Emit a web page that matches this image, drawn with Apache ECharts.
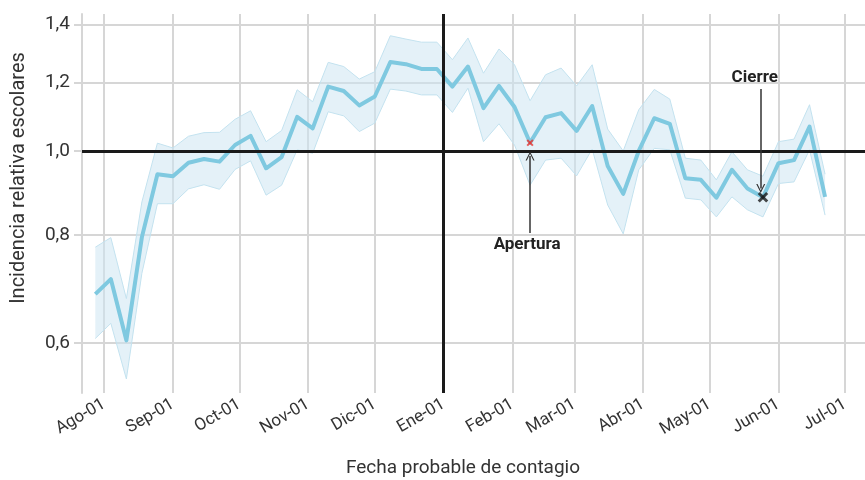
<!DOCTYPE html>
<html>
<head>
<meta charset="utf-8">
<script src="https://cdn.jsdelivr.net/npm/echarts@6/dist/echarts.min.js"></script>
<style>html,body{margin:0;padding:0;background:#fff;}#c{width:865px;height:480px;}</style>
</head>
<body>
<div id="c"></div>
<script>
// ---- data ----
const dates = ['2020-07-28','2020-08-04','2020-08-11','2020-08-18','2020-08-25','2020-09-01','2020-09-08','2020-09-15','2020-09-22','2020-09-29',
  '2020-10-06','2020-10-13','2020-10-20','2020-10-27','2020-11-03','2020-11-10','2020-11-17','2020-11-24','2020-12-01','2020-12-08',
  '2020-12-15','2020-12-22','2020-12-29','2021-01-05','2021-01-12','2021-01-19','2021-01-26','2021-02-02','2021-02-09','2021-02-16',
  '2021-02-23','2021-03-02','2021-03-09','2021-03-16','2021-03-23','2021-03-30','2021-04-06','2021-04-13','2021-04-20','2021-04-27',
  '2021-05-04','2021-05-11','2021-05-18','2021-05-25','2021-06-01','2021-06-08','2021-06-15','2021-06-22'];
const incidence = [0.683,0.711,0.604,0.795,0.940,0.935,0.969,0.979,0.972,1.016,
  1.041,0.955,0.984,1.095,1.062,1.187,1.173,1.129,1.156,1.267,
  1.260,1.244,1.244,1.187,1.252,1.121,1.189,1.124,1.022,1.094,
  1.106,1.055,1.127,0.961,0.892,1.000,1.091,1.075,0.930,0.926,
  0.883,0.951,0.905,0.884,0.968,0.976,1.067,0.885];
const upper = [0.774,0.794,0.675,0.873,1.021,1.008,1.040,1.050,1.051,1.088,
  1.113,1.025,1.056,1.177,1.140,1.266,1.252,1.211,1.235,1.359,
  1.347,1.336,1.336,1.275,1.351,1.230,1.312,1.258,1.143,1.225,
  1.247,1.189,1.258,1.060,1.000,1.116,1.178,1.148,0.981,0.976,
  0.926,0.998,0.951,0.935,1.025,1.032,1.131,0.940];
const lower = [0.607,0.632,0.545,0.722,0.869,0.869,0.904,0.914,0.903,0.952,
  0.974,0.889,0.913,1.003,0.994,1.110,1.098,1.053,1.077,1.179,
  1.173,1.161,1.161,1.108,1.182,1.025,1.075,1.016,0.913,0.976,
  0.981,0.936,1.005,0.866,0.802,0.951,1.007,1.003,0.882,0.878,
  0.839,0.885,0.855,0.839,0.917,0.921,1.003,0.843];
const yTicks = [0.6, 0.8, 1.0, 1.2, 1.4];
const monthTicks = ['2020-08-01','2020-09-01','2020-10-01','2020-11-01','2020-12-01','2021-01-01',
  '2021-02-01','2021-03-01','2021-04-01','2021-05-01','2021-06-01','2021-07-01'];
const monthNames = ['Ene','Feb','Mar','Abr','May','Jun','Jul','Ago','Sep','Oct','Nov','Dic'];
const openingDate = '2021-02-09';
const closingDate = '2021-05-25';

// ---- helpers ----
const toTs = s => { const p = s.split('-'); return new Date(+p[0], +p[1]-1, +p[2]).getTime(); };
const L = Math.log;
const FONT = "Roboto, 'Liberation Sans', sans-serif";
const TXT = '#333333';
const GRID = '#d6d6d6';
const idxOpen = dates.indexOf(openingDate);
const idxClose = dates.indexOf(closingDate);
const monthTs = monthTicks.map(toTs);

const bandData = dates.map((d,i) => [toTs(d), L(lower[i]), L(upper[i])]);
const lineData = dates.map((d,i) => [toTs(d), L(incidence[i])]);

const chevron = 'path://M0,10 L5,0 L10,10 L8.6,10 L5,2.6 L1.4,10 Z';

function renderBand(params, api) {
  if (params.dataIndex !== 0) return null;
  const up = bandData.map(r => api.coord([r[0], r[2]]));
  const lo = bandData.map(r => api.coord([r[0], r[1]]));
  const poly = up.concat(lo.slice().reverse());
  return {
    type: 'group',
    children: [
      {type: 'polygon', shape: {points: poly}, style: {fill: 'rgba(205,230,243,0.55)', stroke: 'none'}},
      {type: 'polyline', shape: {points: up}, style: {stroke: '#c3e2ef', lineWidth: 1, fill: 'none'}},
      {type: 'polyline', shape: {points: lo}, style: {stroke: '#c3e2ef', lineWidth: 1, fill: 'none'}}
    ]
  };
}

const chart = echarts.init(document.getElementById('c'), null, {renderer:'canvas'});
chart.setOption({
  animation: false,
  grid: {left: 82, right: 0, top: 14, bottom: 87, containLabel: false, outerBoundsMode: 'none'},
  graphic: [
    {type:'text', left: 0, top: -14, style:{text:'Incidencia relativa de escolares', font:"bold 18px " + FONT, fill: TXT}},
    {type:'text', x: 19, y: 178, rotation: Math.PI/2,
      style:{text:'Incidencia relativa escolares', font:'20px ' + FONT, fill: TXT, align:'center', verticalAlign:'middle'}},
    {type:'text', x: 463, y: 468,
      style:{text:'Fecha probable de contagio', font:'19px ' + FONT, fill: TXT, align:'center', verticalAlign:'middle'}}
  ],
  xAxis: {
    type: 'value',
    min: toTs('2020-07-22'),
    max: toTs('2021-07-10'),
    axisLine: {show: true, lineStyle: {color: GRID, width: 2}},
    axisTick: {show: true, customValues: monthTs, length: 7, lineStyle: {color: GRID, width: 2}},
    axisLabel: {customValues: monthTs, rotate: 30, fontFamily: FONT, fontSize: 17, color: TXT, margin: 10,
      formatter: v => monthNames[new Date(v).getMonth()] + '-01'},
    splitLine: {show: true, lineStyle: {color: GRID, width: 2}}
  },
  yAxis: {
    type: 'value',
    min: L(0.525),
    max: L(1.44),
    axisLine: {show: true, lineStyle: {color: GRID, width: 2}},
    axisTick: {show: true, customValues: yTicks.map(L), length: 8, lineStyle: {color: GRID, width: 2}},
    axisLabel: {customValues: yTicks.map(L), fontFamily: FONT, fontSize: 19, color: TXT, margin: 12,
      formatter: v => Math.exp(v).toFixed(1).replace('.', ',')},
    splitLine: {show: true, lineStyle: {color: GRID, width: 2}}
  },
  series: [
    {
      name: 'ref', type: 'line', data: [], z: 1, silent: true,
      markLine: {
        silent: true, symbol: 'none', animation: false,
        lineStyle: {color: '#1a1a1a', width: 3, type: 'solid'},
        label: {show: false},
        data: [{yAxis: 0}, {xAxis: toTs('2021-01-01')}]
      }
    },
    {
      name: 'band', type: 'custom', data: bandData, z: 2, silent: true,
      encode: {x: 0, y: [1, 2]},
      renderItem: renderBand
    },
    {
      name: 'Incidencia', type: 'line', data: lineData, z: 3,
      symbol: 'none', lineStyle: {color: '#7fc9e0', width: 4, join: 'round'},
      markLine: {
        silent: true, animation: false,
        lineStyle: {color: '#333333', width: 1.5, type: 'solid'},
        data: [
          [
            {coord: [toTs(openingDate), L(0.804)], symbol: 'none',
             label: {show: true, position: 'start', formatter: 'Apertura', fontFamily: FONT, fontWeight: 'bold', fontSize: 17, color: '#222', distance: 3, offset: [-3, 0]}},
            {coord: [toTs(openingDate), L(0.987)], symbol: chevron, symbolSize: [9, 9]}
          ],
          [
            {coord: [toTs('2021-05-24'), L(1.179)], symbol: 'none',
             label: {show: true, position: 'start', formatter: 'Cierre', fontFamily: FONT, fontWeight: 'bold', fontSize: 17, color: '#222', distance: 3, offset: [-6, 0]}},
            {coord: [toTs('2021-05-24'), L(0.905)], symbol: chevron, symbolSize: [9, 9]}
          ]
        ]
      }
    },
    {
      name: 'open45', type: 'scatter', z: 4, silent: true,
      data: [lineData[idxOpen]], symbol: 'rect', symbolSize: [8, 2], symbolRotate: 45,
      itemStyle: {color: '#e8332e'}
    },
    {
      name: 'open135', type: 'scatter', z: 4, silent: true,
      data: [lineData[idxOpen]], symbol: 'rect', symbolSize: [8, 2], symbolRotate: -45,
      itemStyle: {color: '#e8332e'}
    },
    {
      name: 'close45', type: 'scatter', z: 4, silent: true,
      data: [lineData[idxClose]], symbol: 'rect', symbolSize: [12, 3], symbolRotate: 45,
      itemStyle: {color: '#1a1a1a'}
    },
    {
      name: 'close135', type: 'scatter', z: 4, silent: true,
      data: [lineData[idxClose]], symbol: 'rect', symbolSize: [12, 3], symbolRotate: -45,
      itemStyle: {color: '#1a1a1a'}
    }
  ]
});
</script>
</body>
</html>
